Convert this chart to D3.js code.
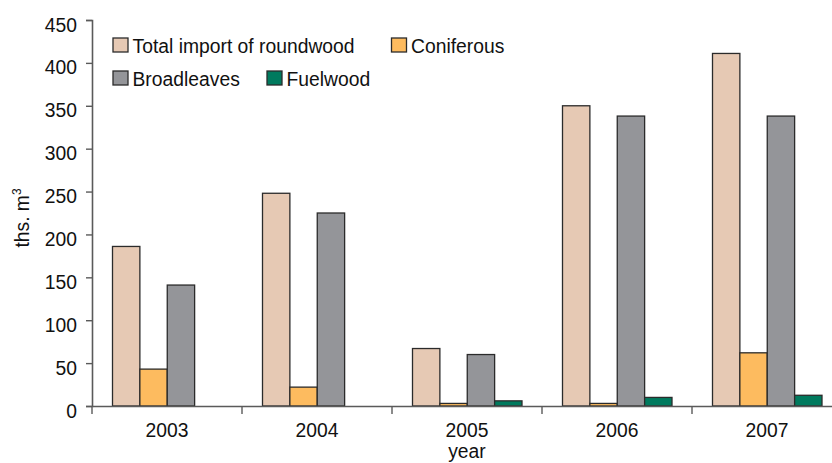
<!DOCTYPE html>
<html>
<head>
<meta charset="utf-8">
<script src="https://cdn.jsdelivr.net/npm/d3@7"></script>
<style>
  body { margin: 0; background: #fff; }
  text { font-family: "Liberation Sans", Arial, sans-serif; fill: #111; }
</style>
</head>
<body>
<div id="chart"></div>
<script>
/*chart data*/
var years = ["2003", "2004", "2005", "2006", "2007"];
var seriesNames = ["Total import of roundwood", "Coniferous", "Broadleaves", "Fuelwood"];
var seriesColors = ["#e6c9b4", "#fdbb5f", "#949599", "#007a5e"];
var totalImport = [186, 248, 67, 350, 411];
var coniferous = [43, 22, 3, 3, 62];
var broadleaves = [141, 225, 60, 338, 338];
var fuelwood = [0, 0, 6, 10, 12.5];
var yTicks = [0, 50, 100, 150, 200, 250, 300, 350, 400, 450];

var seriesValues = [totalImport, coniferous, broadleaves, fuelwood];

/*svg size and condensed-text squeeze*/
var svgWidth = 832;
var svgHeight = 463;
var fontSize = 21;
var squeeze = 0.92;

var svg = d3.select("#chart").append("svg")
  .attr("width", svgWidth)
  .attr("height", svgHeight);

/*scales - the category axis runs past the right edge like the original*/
var xScale = d3.scaleBand().domain(years).range([92, 842]);
var innerScale = d3.scaleBand().domain(d3.range(seriesNames.length))
  .range([20.5, 20.5 + 109.5]);
var yScale = d3.scaleLinear().domain([0, 450]).range([406, 20]);

/*helper to put squeezed text at a point*/
function addText(x, y, str, anchor) {
  return svg.append("text")
    .attr("transform", `translate(${x},${y}) scale(${squeeze},1)`)
    .attr("text-anchor", anchor || "start")
    .attr("font-size", fontSize)
    .text(str);
}

/*bars*/
years.forEach(function(year, i) {
  seriesValues.forEach(function(vals, s) {
    if (vals[i] <= 0) return;
    svg.append("rect")
      .attr("x", xScale(year) + innerScale(s))
      .attr("y", yScale(vals[i]))
      .attr("width", innerScale.bandwidth())
      .attr("height", yScale(0) - yScale(vals[i]))
      .attr("fill", seriesColors[s])
      .attr("stroke", "#2b2b2b")
      .attr("stroke-width", 1.3);
  });
});

/*y axis*/
var leftAxis = d3.axisLeft(yScale).tickValues(yTicks).tickSize(6).tickPadding(9);
var yAxisG = svg.append("g")
  .attr("transform", "translate(92,0)")
  .call(leftAxis);
yAxisG.select(".domain").attr("stroke", "#5a5a5a").attr("stroke-width", 1.6);
yAxisG.selectAll(".tick line").attr("stroke", "#5a5a5a").attr("stroke-width", 1.4);
yAxisG.selectAll(".tick text")
  .attr("font-size", fontSize)
  .attr("fill", "#111")
  .attr("x", -15 / squeeze)
  .attr("dy", 11)
  .attr("transform", `scale(${squeeze},1)`)
  .style("font-family", "'Liberation Sans', Arial, sans-serif");

/*x axis*/
var bottomAxis = d3.axisBottom(xScale).tickSize(0).tickPadding(0);
var xAxisG = svg.append("g")
  .attr("transform", "translate(0,406)")
  .call(bottomAxis);
xAxisG.select(".domain").attr("stroke", "#5a5a5a").attr("stroke-width", 1.6);
xAxisG.selectAll(".tick text")
  .attr("font-size", fontSize)
  .attr("fill", "#111")
  .attr("y", 31)
  .attr("dy", 0)
  .attr("transform", `scale(${squeeze},1)`)
  .style("font-family", "'Liberation Sans', Arial, sans-serif");

/*category separator ticks*/
svg.selectAll(".sep")
  .data(years)
  .enter()
  .append("line")
  .attr("x1", d => xScale(d))
  .attr("x2", d => xScale(d))
  .attr("y1", 406)
  .attr("y2", 414)
  .attr("stroke", "#5a5a5a")
  .attr("stroke-width", 1.4);

/*axis titles*/
addText(xScale("2005") + xScale.bandwidth() / 2, 458, "year", "middle");

var yTitle = svg.append("text")
  .attr("transform", `translate(29,218) rotate(-90) scale(${squeeze},1)`)
  .attr("text-anchor", "middle")
  .attr("font-size", fontSize);
yTitle.append("tspan").text("ths. m");
yTitle.append("tspan").attr("font-size", 13).attr("dy", -8).text("3");

/*legend*/
var legendPos = [[113, 45], [391.5, 45], [113, 78], [267, 78]];
seriesNames.forEach(function(name, s) {
  svg.append("rect")
    .attr("x", legendPos[s][0]).attr("y", legendPos[s][1] - 7)
    .attr("width", 15).attr("height", 14)
    .attr("fill", seriesColors[s])
    .attr("stroke", "#2b2b2b")
    .attr("stroke-width", 1.3);
  addText(legendPos[s][0] + 19.5, legendPos[s][1] + 7.5, name);
});
</script>
</body>
</html>
